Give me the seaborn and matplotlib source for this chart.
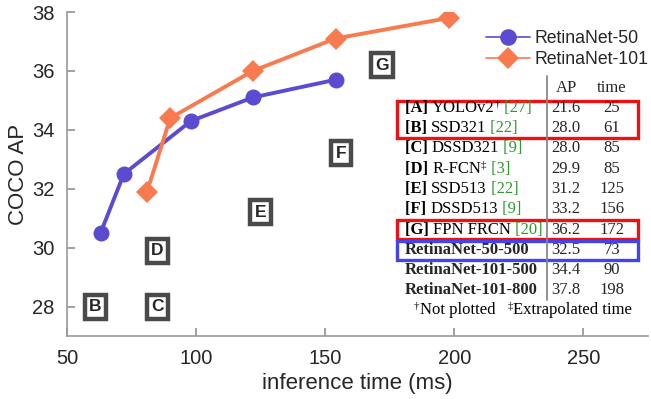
import matplotlib
matplotlib.use("Agg")
import matplotlib.pyplot as plt
import seaborn as sns
import pandas as pd
from matplotlib.lines import Line2D
from matplotlib.patches import Rectangle

# ---- data ----
r50_time = [63, 72, 98, 122, 154]
r50_ap = [30.5, 32.5, 34.3, 35.1, 35.7]
r101_time = [81, 90, 122, 154, 198]
r101_ap = [31.9, 34.4, 36.0, 37.1, 37.8]
series_names = ["RetinaNet-50", "RetinaNet-101"]

box_labels = ["B", "C", "D", "E", "F", "G"]
box_time = [61, 85, 85, 125, 156, 172]
box_ap = [28.0, 28.0, 29.9, 31.2, 33.2, 36.2]

table_tags = ["[A]", "[B]", "[C]", "[D]", "[E]", "[F]", "[G]"]
table_names = ["YOLOv2", "SSD321", "DSSD321", "R-FCN", "SSD513", "DSSD513", "FPN FRCN"]
table_marks = ["†", "", "", "‡", "", "", ""]
table_refs = ["[27]", "[22]", "[9]", "[3]", "[22]", "[9]", "[20]"]
table_ap = ["21.6", "28.0", "28.0", "29.9", "31.2", "33.2", "36.2"]
table_time = ["25", "61", "85", "85", "125", "156", "172"]
retina_rows = ["RetinaNet-50-500", "RetinaNet-101-500", "RetinaNet-101-800"]
retina_ap = ["32.5", "34.4", "37.8"]
retina_time = ["73", "90", "198"]

xticks = [50, 100, 150, 200, 250]
yticks = [28, 30, 32, 34, 36, 38]

PURPLE = "#5b4bd0"
ORANGE = "#f97a4e"
GREEN = "#2f9a2f"

sns.set_style("white")
plt.rcParams["font.family"] = ["Liberation Sans", "DejaVu Sans"]

W, H = 651, 399
fig = plt.figure(figsize=(W / 100, H / 100), dpi=100)
ax = fig.add_axes([67 / W, 1 - 336 / H, (648 - 67) / W, (336 - 12) / H])

df = pd.DataFrame({
    "time": r50_time + r101_time,
    "ap": r50_ap + r101_ap,
    "model": [series_names[0]] * len(r50_time) + [series_names[1]] * len(r101_time),
})
sns.lineplot(data=df, x="time", y="ap", hue="model", style="model",
             palette={series_names[0]: PURPLE, series_names[1]: ORANGE},
             markers={series_names[0]: "o", series_names[1]: "D"},
             dashes=False, linewidth=2.8, markersize=11.5, markeredgewidth=0,
             ax=ax, legend=False, sort=False)

ax.set_xlim(50, 275)
ax.set_ylim(27, 38)
ax.set_xticks(xticks)
ax.set_yticks(yticks)
ax.tick_params(direction="in", length=6, width=1.1, color="#888888", labelsize=14.5, pad=9,
               bottom=True, left=True)
for s in ["top", "right"]:
    ax.spines[s].set_visible(False)
for s in ["left", "bottom"]:
    ax.spines[s].set_color("#999999")
    ax.spines[s].set_linewidth(1.2)
ax.set_xlabel("inference time (ms)", fontsize=16, labelpad=4)
ax.set_ylabel("COCO AP", fontsize=16, labelpad=2)

for lab, x, y in zip(box_labels, box_time, box_ap):
    ax.text(x, y, lab, ha="center", va="center", fontsize=12.5, fontweight="bold",
            bbox=dict(boxstyle="square,pad=0.26", fc="white", ec="#4a4a4a", lw=3.2))

handles = [Line2D([], [], color=PURPLE, marker="o", lw=1.2, ms=12, mew=0),
           Line2D([], [], color=ORANGE, marker="D", lw=1.2, ms=11, mew=0)]
leg = ax.legend(handles, series_names, loc="upper left",
                bbox_to_anchor=((486 - 67) / (648 - 67), 1 - (30 - 12) / (336 - 12)),
                frameon=False, fontsize=12.7, handlelength=2.5, handletextpad=0.25,
                labelspacing=0.25, borderaxespad=0, borderpad=0)

# ---- table ----
fig.canvas.draw()
renderer = fig.canvas.get_renderer()
SERIF = ["Liberation Serif", "DejaVu Serif"]
FS = 12


def px(x, y):
    return x / W, 1 - y / H


def seg_text(x, y, segments):
    for txt, weight, color, size, dy in segments:
        t = fig.text(*px(x, y + dy), txt, family=SERIF, fontsize=size, fontweight=weight,
                     color=color, ha="left", va="center")
        bb = t.get_window_extent(renderer)
        x += bb.width


row_y0, row_step = 108, 20.25
x_left = 405
x_ap = 566
x_time = 612

fig.text(*px(x_ap, 88), "AP", family=SERIF, fontsize=FS, ha="center", va="center")
fig.text(*px(x_time, 88), "time", family=SERIF, fontsize=FS, ha="center", va="center")

for i, (tag, name, mark, ref, ap, tm) in enumerate(zip(table_tags, table_names, table_marks,
                                                        table_refs, table_ap, table_time)):
    y = row_y0 + i * row_step
    segs = [(tag + " ", "bold", "black", FS, 0), (name, "normal", "black", FS, 0)]
    if mark:
        segs.append((mark, "normal", "black", FS * 0.65, -4))
    segs.append((" " + ref, "normal", GREEN, FS, 0))
    seg_text(x_left, y, segs)
    fig.text(*px(x_ap, y), ap, family=SERIF, fontsize=FS, ha="center", va="center")
    fig.text(*px(x_time, y), tm, family=SERIF, fontsize=FS, ha="center", va="center")

for j, (name, ap, tm) in enumerate(zip(retina_rows, retina_ap, retina_time)):
    y = row_y0 + (len(table_tags) + j) * row_step
    fig.text(*px(x_left, y), name, family=SERIF, fontsize=FS, fontweight="bold",
             ha="left", va="center")
    fig.text(*px(x_ap, y), ap, family=SERIF, fontsize=FS, ha="center", va="center")
    fig.text(*px(x_time, y), tm, family=SERIF, fontsize=FS, ha="center", va="center")

yf = row_y0 + (len(table_tags) + len(retina_rows)) * row_step
seg_text(414, yf, [("†", "normal", "black", FS * 0.65, -4),
                   ("Not plotted   ", "normal", "black", FS, 0),
                   ("‡", "normal", "black", FS * 0.65, -4),
                   ("Extrapolated time", "normal", "black", FS, 0)])

# vertical separator
fig.add_artist(Line2D([547 / W, 547 / W], [1 - 76 / H, 1 - 300 / H], color="#888888", lw=1.3))


def rect(x0, y0, x1, y1, color):
    fig.add_artist(Rectangle((x0 / W, 1 - y1 / H), (x1 - x0) / W, (y1 - y0) / H,
                             fill=False, ec=color, lw=2.4, transform=fig.transFigure))


rect(397, 101, 638, 138, "#ee1111")
rect(397, 220, 638, 239, "#ee1111")
rect(397, 241, 638, 260, "#4444ee")

fig.savefig("out.png", dpi=100)
